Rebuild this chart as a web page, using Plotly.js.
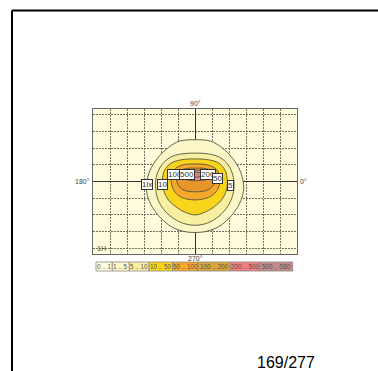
<!DOCTYPE html>
<html>
<head>
<meta charset="utf-8">
<script src="https://cdn.plot.ly/plotly-3.0.1.min.js"></script>
<style>
  html, body { margin: 0; padding: 0; background: #ffffff; }
  #chart { width: 378px; height: 371px; }
</style>
</head>
<body>
<div id="chart"></div>
<script>
// ---- Data: isolux contour lines (grid units, centre = 0) ----
const isoLevels = [1, 5, 10, 50, 100, 200, 500];

const iso1X = [0, 0.9, 1.55, 2.2, 2.65, 2.86, 2.8, 2.5, 2.0, 1.4, 0.7, 0, -0.7, -1.4, -2.0, -2.5, -2.8, -2.86, -2.65, -2.2, -1.55, -0.9, 0];
const iso1Y = [2.5, 2.42, 2.05, 1.4, 0.65, -0.2, -0.85, -1.55, -2.2, -2.7, -2.98, -3.05, -2.98, -2.7, -2.2, -1.55, -0.85, -0.2, 0.65, 1.4, 2.05, 2.42, 2.5];

const iso5X = [0, 0.8, 1.45, 1.95, 2.22, 2.3, 2.18, 1.85, 1.32, 0.7, 0, -0.7, -1.35, -1.9, -2.22, -2.32, -2.25, -1.95, -1.45, -0.8, 0];
const iso5Y = [1.7, 1.65, 1.45, 1.0, 0.4, -0.25, -0.95, -1.6, -2.15, -2.5, -2.62, -2.5, -2.15, -1.6, -0.95, -0.25, 0.4, 1.0, 1.45, 1.65, 1.7];

const iso10X = [0, 0.8, 1.4, 1.78, 1.9, 1.85, 1.6, 1.15, 0.55, 0, -0.55, -1.15, -1.6, -1.85, -1.92, -1.8, -1.4, -0.8, 0];
const iso10Y = [1.35, 1.3, 1.1, 0.65, 0.05, -0.5, -1.05, -1.5, -1.85, -2.0, -1.85, -1.5, -1.05, -0.5, 0.05, 0.65, 1.1, 1.3, 1.35];

const iso50X = [0, 0.7, 1.2, 1.45, 1.45, 1.25, 0.8, 0, -0.8, -1.2, -1.38, -1.38, -1.15, -0.7, 0];
const iso50Y = [1.05, 1.0, 0.78, 0.35, -0.15, -0.6, -0.95, -1.1, -0.95, -0.6, -0.15, 0.35, 0.78, 1.0, 1.05];

const iso100X = [0.05, 0.65, 1.05, 1.2, 1.1, 0.75, 0.05, -0.7, -1.0, -1.08, -0.95, -0.55, 0.05];
const iso100Y = [0.8, 0.77, 0.6, 0.2, -0.2, -0.5, -0.62, -0.5, -0.2, 0.2, 0.6, 0.77, 0.8];

const iso200X = [0.1, 0.6, 0.95, 0.9, 0.5, 0.1, -0.4, -0.75, -0.75, -0.4, 0.1];
const iso200Y = [0.68, 0.62, 0.4, 0.2, 0.08, 0.05, 0.08, 0.25, 0.45, 0.63, 0.68];

const iso500X = [0.1, 0.4, 0.5, 0.35, 0.1, -0.2, -0.3, -0.15, 0.1];
const iso500Y = [0.55, 0.5, 0.4, 0.3, 0.27, 0.3, 0.4, 0.5, 0.55];

// contour value labels
const isoLabelText = ['1lx', '10', '5', '100', '500', '200', '50'];

// legend classes
const legendLabels = ['0 .. 1', '1 .. 5', '5 .. 10', '10 .. 50', '50 .. 100', '100 .. 200', '200 .. 500', '500 .. 580'];

// axis direction labels
const dirLabels = ['90°', '270°', '180°', '0°'];
const pageLabel = '169/277';

// ---- Styles ----
const bgColor = '#fefcdc';
const fillColors = ['#fcf7c9', '#f8f0a0', '#f9d41c', '#f5a82a', '#e8962a', '#f08080', '#c38a8a'];
const legendColors = ['#fefcdc', '#fcf7c9', '#f8f0a0', '#f9d41c', '#f5a82a', '#dda43a', '#f08080', '#c38a8a'];
const lineColor = '#55553a';

const isoX = [iso1X, iso5X, iso10X, iso50X, iso100X, iso200X, iso500X];
const isoY = [iso1Y, iso5Y, iso10Y, iso50Y, iso100Y, iso200Y, iso500Y];

const traces = isoLevels.map((lv, i) => ({
  type: 'scatter', mode: 'lines',
  x: isoX[i], y: isoY[i],
  fill: 'toself', fillcolor: fillColors[i],
  line: { color: lineColor, width: 0.9, shape: 'spline', smoothing: 1 },
  hoverinfo: 'skip', showlegend: false, name: lv + ' lx'
}));

// plot area in pixels: x 93..297, y 109..254
const L = 93, R = 297, T = 109, B = 254;
const px = v => (v - L) / (R - L);
const py = v => (B - v) / (B - T);

const annotations = [];
const shapes = [];

// contour labels (positions in data units)
const labelPos = [[-2.82, -0.15], [-1.94, -0.15], [2.09, -0.21], [-1.19, 0.42], [-0.47, 0.42], [0.76, 0.42], [1.32, 0.2]];
isoLabelText.forEach((t, i) => {
  annotations.push({
    x: labelPos[i][0], y: labelPos[i][1], xref: 'x', yref: 'y',
    text: t, showarrow: false,
    font: { family: 'Liberation Sans, Arial, sans-serif', size: 8, color: '#333' },
    bgcolor: '#ffffff', bordercolor: '#333', borderwidth: 1, borderpad: 0
  });
});

// direction labels
const dirFont = { family: 'Liberation Sans, Arial, sans-serif', size: 7, color: '#444' };
annotations.push({ x: 0.5, y: py(104), xref: 'paper', yref: 'paper', text: dirLabels[0], showarrow: false, font: dirFont, xanchor: 'center', yanchor: 'middle' });
annotations.push({ x: 0.5, y: py(258.5), xref: 'paper', yref: 'paper', text: dirLabels[1], showarrow: false, font: dirFont, xanchor: 'center', yanchor: 'middle' });
annotations.push({ x: px(92), y: py(181.5), xref: 'paper', yref: 'paper', text: dirLabels[2], showarrow: false, font: dirFont, xanchor: 'right', yanchor: 'middle' });
annotations.push({ x: px(298), y: py(181.5), xref: 'paper', yref: 'paper', text: dirLabels[3], showarrow: false, font: dirFont, xanchor: 'left', yanchor: 'middle' });
annotations.push({ x: px(95), y: py(248.3), xref: 'paper', yref: 'paper', text: '1H', showarrow: false, font: dirFont, xanchor: 'left', yanchor: 'middle' });

// legend bar
const legEdges = [96, 112.3, 129.3, 149, 172.7, 198, 230.3, 260, 292.7];
legendLabels.forEach((t, i) => {
  shapes.push({
    type: 'rect', xref: 'paper', yref: 'paper',
    x0: px(legEdges[i]), x1: px(legEdges[i + 1]), y0: py(271), y1: py(262),
    fillcolor: legendColors[i], line: { color: '#888', width: 0.8 }, layer: 'above'
  });
  annotations.push({
    x: px((legEdges[i] + legEdges[i + 1]) / 2), y: py(266.6), xref: 'paper', yref: 'paper',
    text: t, showarrow: false, xanchor: 'center', yanchor: 'middle',
    font: { family: 'Liberation Sans, Arial, sans-serif', size: 6.3, color: '#555' }
  });
});

// page number
annotations.push({
  x: px(286), y: py(362), xref: 'paper', yref: 'paper', text: pageLabel, showarrow: false,
  xanchor: 'center', yanchor: 'middle',
  font: { family: 'Liberation Sans, Arial, sans-serif', size: 16, color: '#000' }
});

// page frame (top + left)
shapes.push({ type: 'line', xref: 'paper', yref: 'paper', x0: px(12), x1: px(380), y0: py(10.5), y1: py(10.5), line: { color: '#000', width: 2 } });
shapes.push({ type: 'line', xref: 'paper', yref: 'paper', x0: px(12), x1: px(12), y0: py(10.5), y1: py(375), line: { color: '#000', width: 2 } });

const axisCommon = {
  showticklabels: false, ticks: '',
  showgrid: true, gridcolor: '#707060', gridwidth: 1, griddash: '2px,1px',
  zeroline: true, zerolinecolor: '#333', zerolinewidth: 1,
  showline: true, linecolor: '#666', linewidth: 1, mirror: true,
  dtick: 1, tick0: 0, fixedrange: true
};

const layout = {
  width: 378, height: 371,
  margin: { l: L, r: 378 - R, t: T, b: 371 - B, pad: 0 },
  paper_bgcolor: '#ffffff', plot_bgcolor: bgColor,
  xaxis: Object.assign({}, axisCommon, { range: [-6, 6] }),
  yaxis: Object.assign({}, axisCommon, { range: [-4.34, 4.34] }),
  annotations: annotations, shapes: shapes, showlegend: false
};

Plotly.newPlot('chart', traces, layout, { staticPlot: true, displayModeBar: false });
</script>
</body>
</html>
